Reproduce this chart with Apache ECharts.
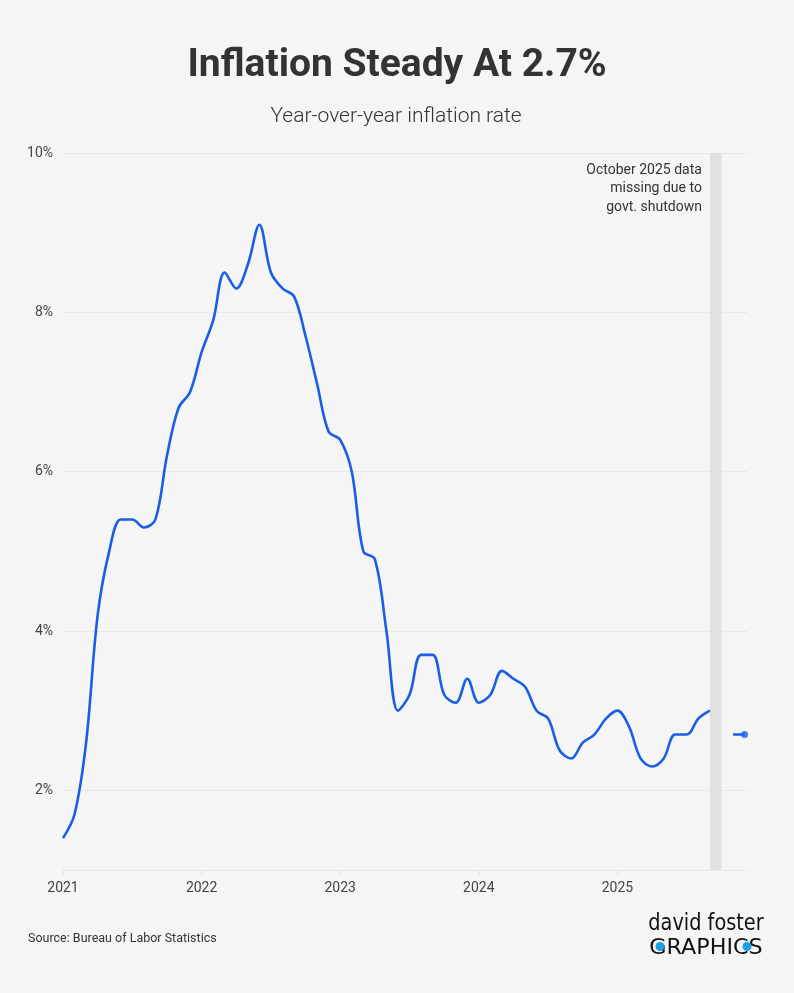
<!DOCTYPE html>
<html>
<head>
<meta charset="utf-8">
<script src="https://cdn.jsdelivr.net/npm/echarts@6/dist/echarts.min.js"></script>
<style>
html,body{margin:0;padding:0;background:#f5f5f5;}
#chart{width:794px;height:993px;}
</style>
</head>
<body>
<div id="chart"></div>
<script>
// Monthly CPI year-over-year (%), Jan 2021 .. Dec 2025 (Oct 2025 missing)
const months = [
  '2021-01','2021-02','2021-03','2021-04','2021-05','2021-06','2021-07','2021-08','2021-09','2021-10','2021-11','2021-12',
  '2022-01','2022-02','2022-03','2022-04','2022-05','2022-06','2022-07','2022-08','2022-09','2022-10','2022-11','2022-12',
  '2023-01','2023-02','2023-03','2023-04','2023-05','2023-06','2023-07','2023-08','2023-09','2023-10','2023-11','2023-12',
  '2024-01','2024-02','2024-03','2024-04','2024-05','2024-06','2024-07','2024-08','2024-09','2024-10','2024-11','2024-12',
  '2025-01','2025-02','2025-03','2025-04','2025-05','2025-06','2025-07','2025-08','2025-09','2025-10','2025-11','2025-12'
];
const inflation = [
  1.4, 1.7, 2.6, 4.2, 5.0, 5.4, 5.4, 5.3, 5.4, 6.2, 6.8, 7.0,
  7.5, 7.9, 8.5, 8.3, 8.6, 9.1, 8.5, 8.3, 8.2, 7.7, 7.1, 6.5,
  6.4, 6.0, 5.0, 4.9, 4.0, 3.0, 3.2, 3.7, 3.7, 3.2, 3.1, 3.4,
  3.1, 3.2, 3.5, 3.4, 3.3, 3.0, 2.9, 2.5, 2.4, 2.6, 2.7, 2.9,
  3.0, 2.8, 2.4, 2.3, 2.4, 2.7, 2.7, 2.9, 3.0, null, 2.7, 2.7
];
const yearTicks = [0, 12, 24, 36, 48];
const yearLabels = ['2021', '2022', '2023', '2024', '2025'];
const missingMonth = '2025-10';
const missingNote = 'October 2025 data\nmissing due to\ngovt. shutdown';

const seriesData = inflation.map((v, i) => [i, v]);
const lastIdx = inflation.length - 1;
const missIdx = months.indexOf(missingMonth);

const chart = echarts.init(document.getElementById('chart'));
const FONT = 'Roboto, "Liberation Sans", sans-serif';

chart.setOption({
  backgroundColor: '#f5f5f5',
  animation: false,
  grid: { left: 63, right: 46, top: 153, bottom: 123 },
  xAxis: {
    type: 'value',
    min: 0,
    max: 59.3,
    axisLine: { show: true, lineStyle: { color: '#e9e9e9', width: 1 } },
    axisTick: { show: true, customValues: yearTicks, length: 5, lineStyle: { color: '#e4e4e4' } },
    splitLine: { show: false },
    axisLabel: {
      customValues: yearTicks,
      formatter: v => yearLabels[yearTicks.indexOf(Math.round(v))] || '',
      color: '#444', fontSize: 14, fontFamily: FONT, margin: 11
    }
  },
  yAxis: {
    type: 'value',
    min: 1, max: 10, interval: 1,
    axisLine: { show: false },
    axisTick: { show: false },
    splitLine: { show: true, lineStyle: { color: ['transparent', '#e9e9e9'], width: 1 } },
    axisLabel: {
      formatter: v => (v % 2 === 0 ? v + '%' : ''),
      color: '#444', fontSize: 14, fontFamily: FONT, margin: 10
    }
  },
  series: [
    {
      type: 'line',
      data: seriesData,
      smooth: 0.35,
      symbol: 'none',
      connectNulls: false,
      lineStyle: { color: '#1a5ee6', width: 2.6 },
      markArea: {
        silent: true,
        itemStyle: { color: '#e1e1e1' },
        label: {
          show: true,
          position: [-8, 8],
          align: 'right',
          verticalAlign: 'top',
          color: '#333',
          fontSize: 14,
          lineHeight: 18.5,
          fontFamily: FONT,
          formatter: missingNote
        },
        data: [[{ xAxis: missIdx - 1 }, { xAxis: missIdx }]]
      },
      z: 3
    },
    {
      type: 'scatter',
      data: [seriesData[lastIdx]],
      symbol: 'circle',
      symbolSize: 7,
      itemStyle: { color: '#1a5ee6' },
      z: 4
    }
  ],
  graphic: [
    {
      type: 'text', x: 397, y: 66,
      style: { text: 'Inflation Steady At 2.7%', x: 0, y: 0, textAlign: 'center', textVerticalAlign: 'middle',
        font: 'bold 39px Roboto, sans-serif', fill: '#333' }
    },
    {
      type: 'text', x: 396, y: 117,
      style: { text: 'Year-over-year inflation rate', x: 0, y: 0, textAlign: 'center', textVerticalAlign: 'middle',
        font: '300 21px Roboto, sans-serif', fill: '#333' }
    },
    {
      type: 'text', x: 28, y: 939,
      style: { text: 'Source: Bureau of Labor Statistics', textAlign: 'left', textVerticalAlign: 'middle',
        font: '12.5px Roboto, sans-serif', fill: '#333' }
    },
    {
      type: 'text', x: 706, y: 924, scaleX: 0.84,
      style: { text: 'david foster', x: 0, y: 0, textAlign: 'center', textVerticalAlign: 'middle',
        font: '23px "DejaVu Sans", sans-serif', fill: '#111' }
    },
    {
      type: 'text', x: 706, y: 949, scaleX: 1.06,
      style: { text: 'GRAPHICS', x: 0, y: 0, textAlign: 'center', textVerticalAlign: 'middle',
        font: '21px "DejaVu Sans", sans-serif', fill: '#111' }
    },
    { type: 'circle', shape: { cx: 660, cy: 946.5, r: 4.5 }, style: { fill: '#1aa0e6' }, z: 10 },
    { type: 'circle', shape: { cx: 747, cy: 946.5, r: 4.5 }, style: { fill: '#1aa0e6' }, z: 10 }
  ]
});
</script>
</body>
</html>
